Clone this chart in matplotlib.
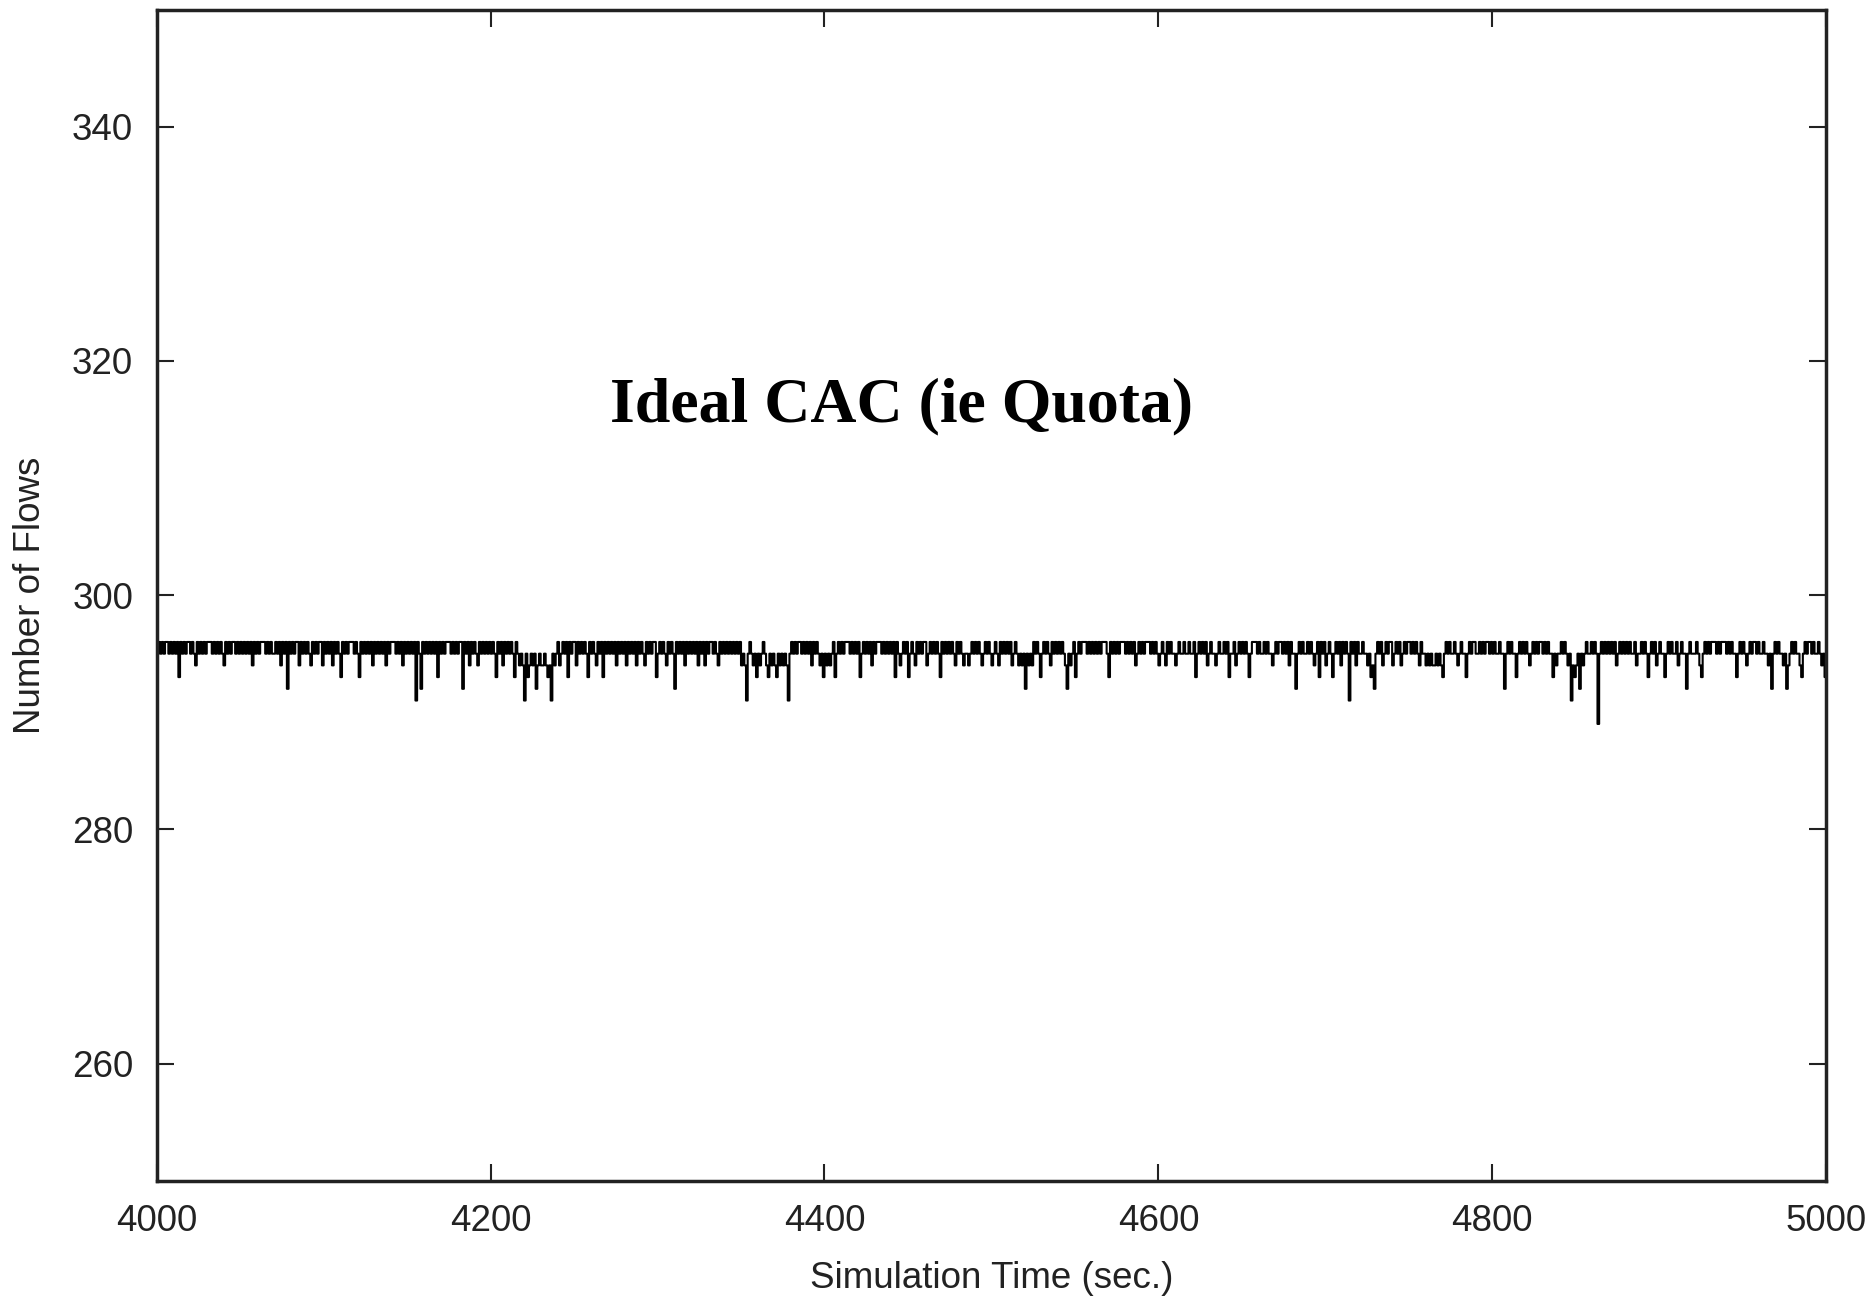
import numpy as np
import matplotlib as mpl
mpl.use("Agg")
import matplotlib.pyplot as plt

# Ideal CAC (quota) run: number of admitted flows sampled once per second
quota = 296
t_start = 4000

# shortfall below the quota for each second, 50 seconds per row (4000..4999, then 5000)
deficit_rows = [
    "1010100101" "0103010100" "1012010101" "0001010101" "2010100101",
    "0101010201" "0100010101" "1010201040" "1010020101" "0120101002",
    "0101020101" "3010100010" "1301010102" "0101010201" "0001010201",
    "0101050140" "1010101030" "1010001010" "1004010201" "0120101010",
    "1013010201" "0101301212" "5132121421" "2212325121" "0210103010",
    "0201010130" "1012010301" "0101020101" "0201010201" "0120101003",
    "1010120101" "4010102010" "1010201020" "1001012010" "1010101010",
    "2125101213" "1210123121" "2312121251" "0101001010" "1020101213",
    "1212103101" "0100010101" "0310101020" "1000101010" "1030121010",
    "3101201010" "0210101013" "0101010120" "1012112101" "0101210101",
    "2101201010" "1021012121" "4121201013" "1010120101" "0101241210",
    "3101000101" "0101010001" "3010101000" "1010102101" "0100010101",
    "2101201011" "2101101101" "1031010102" "1011210110" "1031102101",
    "0101310001" "0110101121" "0100101020" "1141010110" "1012103010",
    "2101310102" "0101501020" "1101121324" "1010210100" "2101021010",
    "0101012011" "2121221212" "3101011012" "1011310100" "1101010010",
    "1011011410" "1011310101" "0121010100" "1010113121" "1010121523",
    "2141210110" "1017101010" "1010210101" "0101102110" "1013101021",
    "0113101011" "0210114101" "1101231010" "1000101000" "1010113101",
    "0121010010" "1101121410" "1011214210" "1011231010" "0101101213",
    "2",
]

x_ticks = [4000, 4200, 4400, 4600, 4800, 5000]
y_ticks = [260, 280, 300, 320, 340]

deficit = np.array([int(c) for c in "".join(deficit_rows)])
flows = quota - deficit
times = t_start + np.arange(len(flows))

plt.rcParams['font.family'] = ['Liberation Sans', 'DejaVu Sans']

fig = plt.figure(figsize=(18.74, 12.97), dpi=100)
ax = fig.add_axes([0.0836, 0.0897, 0.8909, 0.9029])

ax.plot(times, flows, color='black', linewidth=1.5, drawstyle='steps-post')

ax.set_xlim(4000, 5000)
ax.set_ylim(250, 350)
ax.set_xticks(x_ticks)
ax.set_yticks(y_ticks)
ax.tick_params(direction='in', length=12, width=1.5, top=True, right=True,
               labelsize=26.5, colors='#222222', pad=17)
for s in ax.spines.values():
    s.set_linewidth(2.5)
    s.set_color('#222222')

ax.set_xlabel("Simulation Time (sec.)", fontsize=26.5, color='#222222', labelpad=16)
ax.set_ylabel("Number of Flows", fontsize=26.5, color='#222222', labelpad=17)

ax.text(4446, 316.1, "Ideal CAC (ie Quota)", family=['Liberation Serif'],
        fontweight='bold', fontsize=46, ha='center', va='center', color='black')

plt.savefig('out.png')
